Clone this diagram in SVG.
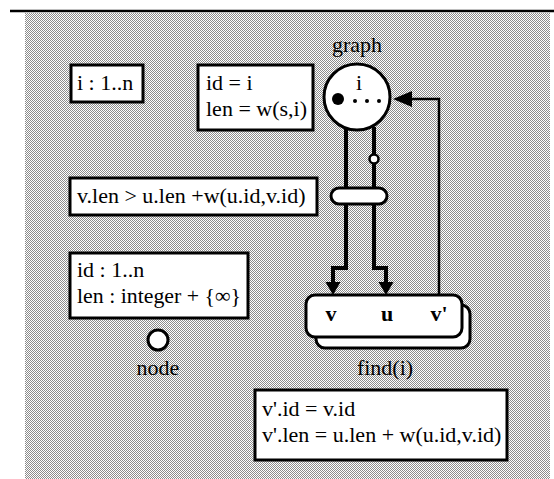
<svg xmlns="http://www.w3.org/2000/svg" width="554" height="479" viewBox="0 0 554 479">
<style>
text{font-family:"Liberation Serif","Times New Roman",serif;font-size:22px;fill:#000}
.box{fill:#fff;stroke:#000;stroke-width:3}
.lbl{font-weight:bold}
.thick{fill:none;stroke:#000;stroke-width:4}
.thin{fill:none;stroke:#000;stroke-width:2.5}
</style>
<defs>
<pattern id="dots" x="0" y="0" width="2" height="2" patternUnits="userSpaceOnUse">
<rect width="2" height="2" fill="#fff"/>
<rect x="0" y="0" width="1" height="1" fill="#8c8c8c"/>
<rect x="1" y="1" width="1" height="1" fill="#8c8c8c"/>
</pattern>
</defs>
<rect x="25" y="13" width="525" height="466" fill="url(#dots)"/>
<line x1="10" y1="11" x2="554" y2="11" stroke="#000" stroke-width="2.5"/>

<g id="range">
<rect class="box" x="71" y="65" width="72" height="37"/>
<text x="77" y="90">i : 1..n</text>
</g>

<g id="init">
<rect class="box" x="198" y="65" width="115" height="65"/>
<text x="206" y="90">id = i</text>
<text x="206" y="116">len = w(s,i)</text>
</g>

<g id="condition">
<rect class="box" x="70" y="178" width="247" height="37"/>
<text x="77" y="203">v.len &gt; u.len +w(u.id,v.id)</text>
</g>

<g id="nodetype">
<rect class="box" x="70" y="253" width="178" height="65"/>
<text x="77" y="277">id : 1..n</text>
<text x="77" y="303" textLength="164" lengthAdjust="spacingAndGlyphs">len : integer + {∞}</text>
</g>

<g id="node">
<circle cx="158" cy="340" r="10" fill="#fff" stroke="#000" stroke-width="3"/>
<text x="158" y="375" text-anchor="middle">node</text>
</g>

<g id="connectors">
<path class="thick" d="M346,128 V268 H333 V283"/>
<polygon points="325.5,282 340.5,282 333,295"/>
<path class="thick" d="M374,127 V268 H386 V283"/>
<polygon points="378.5,282 393.5,282 386,295"/>
<path class="thin" d="M439,295 V99 H410"/>
<polygon points="412,91 412,107 393,99"/>
<circle cx="374" cy="159" r="4.5" fill="#fff" stroke="#000" stroke-width="2.5"/>
<rect class="box" x="331" y="188" width="56" height="16" rx="8"/>
</g>

<g id="graph">
<text x="357" y="52" text-anchor="middle">graph</text>
<circle cx="357" cy="97" r="33" fill="#fff" stroke="#000" stroke-width="3"/>
<text x="359" y="90" text-anchor="middle">i</text>
<circle cx="338" cy="99" r="6"/>
<circle cx="355" cy="101" r="2"/>
<circle cx="367" cy="101" r="2"/>
<circle cx="379" cy="101" r="2"/>
</g>

<g id="find">
<rect class="box" x="316" y="305" width="154" height="43" rx="9"/>
<rect class="box" x="306" y="295" width="156" height="42" rx="9"/>
<text class="lbl" x="331" y="321" text-anchor="middle">v</text>
<text class="lbl" x="387" y="321" text-anchor="middle">u</text>
<text class="lbl" x="439" y="321" text-anchor="middle">v'</text>
<text x="385" y="375" text-anchor="middle">find(i)</text>
</g>

<g id="update">
<rect class="box" x="255" y="390" width="252" height="70"/>
<text x="262" y="416">v'.id = v.id</text>
<text x="262" y="442">v'.len = u.len + w(u.id,v.id)</text>
</g>
</svg>
